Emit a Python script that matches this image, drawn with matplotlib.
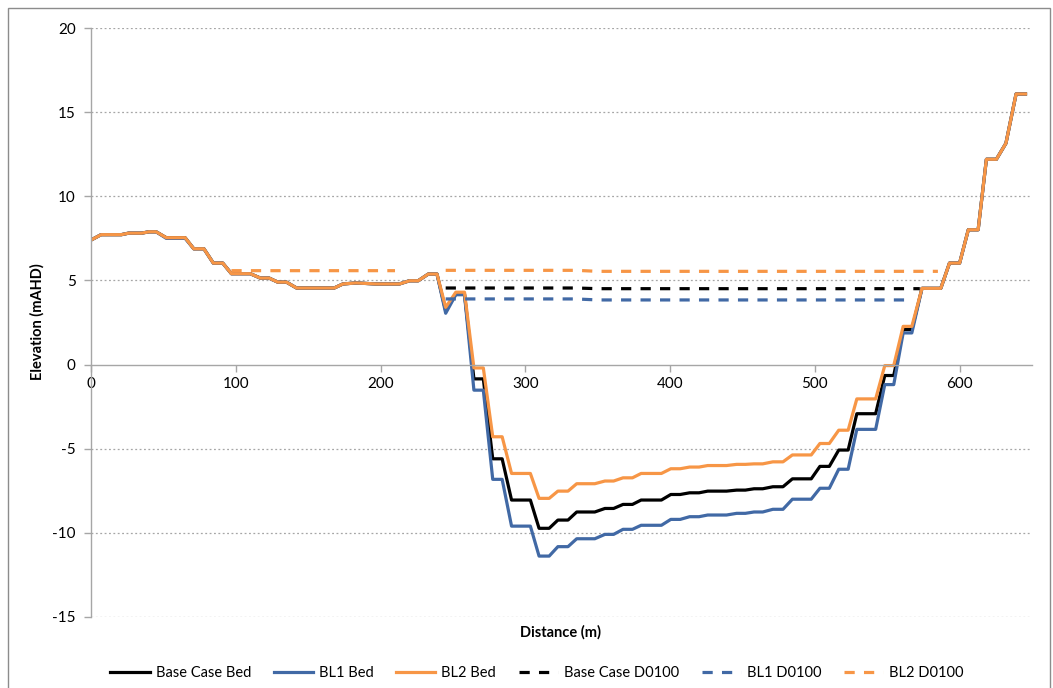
import matplotlib
matplotlib.use("Agg")
import matplotlib.pyplot as plt
from matplotlib.patches import Rectangle

# ---------------- data ----------------
distance = [0, 7, 21, 26, 35, 40, 45, 52, 65, 71, 78, 84.5, 91, 97, 110, 117, 123,
            129, 135, 142, 168, 174, 183, 197, 213, 220, 226, 233, 239, 245, 252,
            258, 264.5, 271, 277.5, 284, 290.5, 303.5, 309.5, 316.5, 322.5, 329.5,
            335.5, 348, 355, 361, 367.5, 374, 380, 394, 400.5, 407, 413.5, 420, 426,
            439, 446, 452, 458, 464, 471, 478, 484.5, 497.5, 503.5, 510, 516.5, 523,
            529, 542, 548.3, 554.5, 561, 567, 574, 587, 593, 600, 606, 612.8, 618.5,
            625.4, 632, 639, 645.5]

base_case_bed = [7.4, 7.72, 7.72, 7.81, 7.81, 7.89, 7.89, 7.54, 7.54, 6.88, 6.88, 6.03,
                 6.03, 5.40, 5.40, 5.14, 5.14, 4.9, 4.9, 4.55, 4.55, 4.79, 4.85, 4.79,
                 4.79, 4.98, 4.98, 5.38, 5.38, 3.2, 4.2, 4.2, -0.85, -0.85, -5.6, -5.6,
                 -8.05, -8.05, -9.73, -9.73, -9.24, -9.24, -8.76, -8.76, -8.55, -8.55,
                 -8.31, -8.31, -8.05, -8.05, -7.72, -7.72, -7.62, -7.62, -7.52, -7.52,
                 -7.46, -7.46, -7.38, -7.38, -7.26, -7.26, -6.79, -6.79, -6.05, -6.05,
                 -5.08, -5.08, -2.92, -2.92, -0.65, -0.65, 2.08, 2.08, 4.53, 4.53, 6.03,
                 6.03, 8.01, 8.01, 12.2, 12.2, 13.15, 16.08, 16.08]

bl1_bed = [7.4, 7.72, 7.72, 7.81, 7.81, 7.89, 7.89, 7.5, 7.5, 6.88, 6.88, 6.03,
           6.03, 5.40, 5.40, 5.14, 5.14, 4.9, 4.9, 4.55, 4.55, 4.79, 4.85, 4.79,
           4.79, 4.98, 4.98, 5.38, 5.38, 3.05, 4.15, 4.15, -1.52, -1.52, -6.82, -6.82,
           -9.6, -9.6, -11.38, -11.38, -10.82, -10.82, -10.35, -10.35, -10.09, -10.09,
           -9.79, -9.79, -9.55, -9.55, -9.2, -9.2, -9.04, -9.04, -8.94, -8.94,
           -8.84, -8.84, -8.76, -8.76, -8.6, -8.6, -8.0, -8.0, -7.35, -7.35,
           -6.22, -6.22, -3.85, -3.85, -1.19, -1.19, 1.88, 1.88, 4.53, 4.53, 6.03,
           6.03, 8.01, 8.01, 12.2, 12.2, 13.15, 16.08, 16.08]

bl2_bed = [7.4, 7.72, 7.72, 7.81, 7.81, 7.89, 7.89, 7.54, 7.54, 6.88, 6.88, 6.03,
           6.03, 5.40, 5.40, 5.14, 5.14, 4.9, 4.9, 4.55, 4.55, 4.79, 4.85, 4.79,
           4.79, 4.98, 4.98, 5.38, 5.38, 3.4, 4.3, 4.3, -0.2, -0.2, -4.29, -4.29,
           -6.47, -6.47, -7.95, -7.95, -7.52, -7.52, -7.08, -7.08, -6.92, -6.92,
           -6.73, -6.73, -6.47, -6.47, -6.19, -6.19, -6.09, -6.09, -6.0, -6.0,
           -5.93, -5.93, -5.9, -5.9, -5.78, -5.78, -5.37, -5.37, -4.69, -4.69,
           -3.9, -3.9, -2.04, -2.04, -0.06, -0.06, 2.27, 2.27, 4.53, 4.53, 6.03,
           6.03, 8.01, 8.01, 12.2, 12.2, 13.15, 16.08, 16.08]

base_case_wl_x = [245, 335, 350, 572.5]
base_case_wl = [4.55, 4.55, 4.51, 4.51]

bl1_wl_x = [245, 335, 350, 567.7]
bl1_wl = [3.9, 3.9, 3.84, 3.84]

bl2_wl_x = [97, 210, None, 245, 335, 350, 585]
bl2_wl = [5.58, 5.58, None, 5.6, 5.6, 5.54, 5.54]

x_ticks = [0, 100, 200, 300, 400, 500, 600]
y_ticks = [-15, -10, -5, 0, 5, 10, 15, 20]

# ---------------- style ----------------
BLACK = "#000000"
BLUE = "#4169A5"
ORANGE = "#F79646"
FONT = ["Lato", "DejaVu Sans"]
plt.rcParams["font.family"] = FONT
plt.rcParams["axes.unicode_minus"] = False

W, H = 1053, 688
fig = plt.figure(figsize=(W / 100, H / 100), dpi=100)
ax = fig.add_axes([91 / W, 1 - 617 / H, (1032 - 91) / W, (617 - 28) / H])

lw = 2.3
dash = (3.2, 2.9)

def clean(xs, ys):
    return ([float("nan") if v is None else v for v in xs],
            [float("nan") if v is None else v for v in ys])

ax.plot(distance, base_case_bed, color=BLACK, lw=lw, label="Base Case Bed",
        solid_joinstyle="round")
ax.plot(distance, bl1_bed, color=BLUE, lw=lw, label="BL1 Bed", solid_joinstyle="round")
ax.plot(distance, bl2_bed, color=ORANGE, lw=lw, label="BL2 Bed", solid_joinstyle="round")
ax.plot(base_case_wl_x, base_case_wl, color=BLACK, lw=lw, dashes=dash,
        dash_capstyle="butt", label="Base Case D0100")
ax.plot(bl1_wl_x, bl1_wl, color=BLUE, lw=lw, dashes=dash, dash_capstyle="butt",
        label="BL1 D0100")
bx, by = clean(bl2_wl_x, bl2_wl)
ax.plot(bx, by, color=ORANGE, lw=lw, dashes=dash, dash_capstyle="butt",
        label="BL2 D0100")

ax.set_xlim(0, 650)
ax.set_ylim(-15, 20)
ax.set_xticks(x_ticks)
ax.set_yticks(y_ticks)

# gridlines (dotted, skip zero where the axis sits)
for yv in y_ticks:
    if yv != 0:
        ax.axhline(yv, color="#A6A6A6", lw=0.9, ls=(0, (1.5, 2.0)), zorder=0)

for s in ["top", "right"]:
    ax.spines[s].set_visible(False)
ax.spines["bottom"].set_position(("data", 0))
ax.spines["bottom"].set_color("#A6A6A6")
ax.spines["left"].set_color("#A6A6A6")
ax.spines["bottom"].set_linewidth(1.0)
ax.spines["left"].set_linewidth(1.0)
ax.tick_params(axis="both", direction="out", length=5, width=1.0, color="#A6A6A6",
               labelsize=11, labelcolor="#000000")
ax.tick_params(axis="x", pad=4)
ax.tick_params(axis="y", pad=6)

fig.text(37 / W, 1 - 322 / H, "Elevation (mAHD)", rotation=90, ha="center",
         va="center", fontsize=10.5, fontweight="bold")
fig.text(561 / W, 1 - 632 / H, "Distance (m)", ha="center", va="center",
         fontsize=10.5, fontweight="bold")

leg = fig.legend(loc="center", bbox_to_anchor=(537 / W, 1 - 673 / H), ncol=6,
                 frameon=False, fontsize=10.5, handlelength=2.7, columnspacing=1.55,
                 handletextpad=0.4)

fig.add_artist(Rectangle((8 / W, -0.01), (1050 - 8) / W, 1.01 - 8 / H,
                         transform=fig.transFigure, fill=False,
                         edgecolor="#8C8C8C", lw=1.0))

fig.savefig("out.png", dpi=100, facecolor="white")
